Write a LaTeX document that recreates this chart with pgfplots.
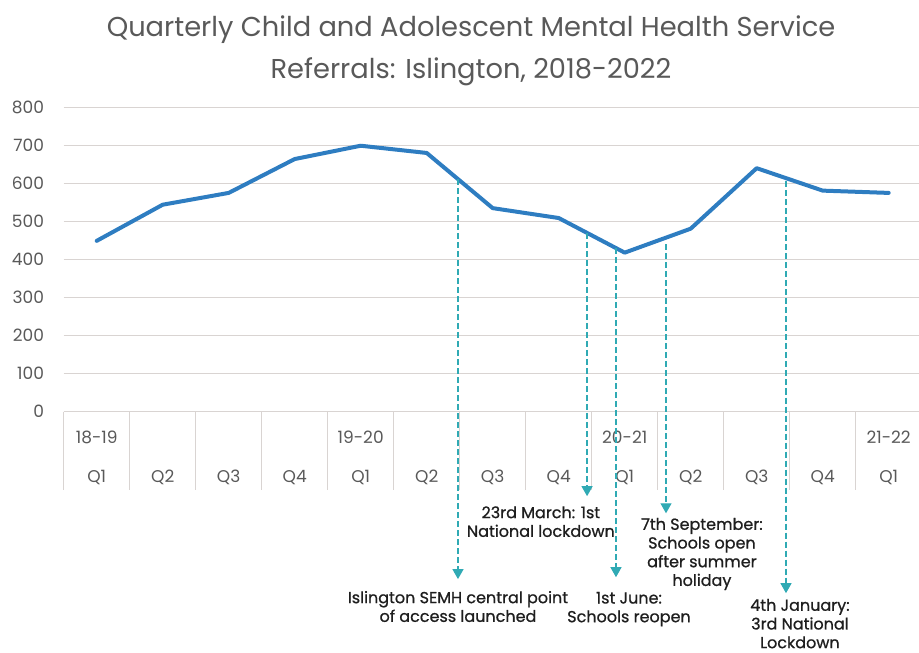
\documentclass[border=0pt]{standalone}
\usepackage{fontspec}
\setmainfont{Poppins}
\newfontfamily\annfont{Poppins}[FakeBold=0.8]
\usepackage{pgfplots}
\pgfplotsset{compat=1.18}
\usetikzlibrary{arrows.meta}
\definecolor{blueline}{RGB}{46,125,193}
\definecolor{teal2}{RGB}{48,170,180}
\definecolor{gridcol}{RGB}{217,212,210}
\definecolor{tickcol}{RGB}{89,89,89}
\definecolor{titlecol}{RGB}{89,89,89}
\definecolor{annotcol}{RGB}{30,30,30}
\begin{document}
\begin{tikzpicture}
\useasboundingbox (0pt,0pt) rectangle (919pt,653pt);
\node[align=center, text=titlecol, font=\fontsize{27.3}{42}\selectfont, inner sep=0pt] at (471pt,602pt) {Quarterly Child and Adolescent Mental Health Service\\Referrals: Islington, 2018-2022};
\begin{axis}[
  at={(63.7pt,241.3pt)}, anchor=south west,
  scale only axis, width=858pt, height=304.4pt,
  xmin=-0.5, xmax=12.5, ymin=0, ymax=800,
  clip=false,
  axis line style={draw=none},
  major tick length=0pt,
  ymajorgrids, grid style={gridcol, line width=1.2pt},
  /pgf/number format/assume math mode=true,
  ytick={0,100,...,800},
  yticklabel style={font=\fontsize{17}{17}\selectfont, text=tickcol, inner sep=0pt, anchor=east, xshift=-19.5pt},
  xtick={0,...,12},
  xticklabels={Q1,Q2,Q3,Q4,Q1,Q2,Q3,Q4,Q1,Q2,Q3,Q4,Q1},
  xticklabel style={font=\fontsize{17}{17}\selectfont, text=tickcol, inner sep=0pt, anchor=base, yshift=-70.6pt},
  extra x ticks={0,4,8,12},
  extra x tick labels={18-19,19-20,20-21,21-22},
  extra x tick style={xticklabel style={yshift=39pt}},
]
\pgfplotsinvokeforeach{-0.5,0.5,...,12.5}{
  \draw[gridcol, line width=1.2pt] (axis cs:#1,0) -- (axis cs:#1,-206);
}
\addplot[blueline, line width=4pt, line join=round, line cap=round] coordinates {
(0,449) (1,544) (2,575) (3,664) (4,699) (5,680) (6,535) (7,509) (8,418) (9,481) (10,640) (11,581) (12,575)};
\tikzset{ann/.style={teal2, line width=1.2pt, dash pattern=on 6pt off 3pt, -{Triangle[width=11pt,length=10pt]}},
  lab/.style={align=center, text=annotcol, font=\annfont\fontsize{16}{18.7}\selectfont, inner sep=0pt}}
\draw[ann] (axis cs:5.474,611) -- (axis cs:5.474,-440);
\draw[ann] (axis cs:7.43,470) -- (axis cs:7.43,-222);
\draw[ann] (axis cs:7.868,430) -- (axis cs:7.868,-435);
\draw[ann] (axis cs:8.626,440) -- (axis cs:8.626,-267);
\draw[ann] (axis cs:10.444,605) -- (axis cs:10.444,-477);
\node[lab] at (axis cs:5.474,-512) {Islington SEMH central point\\of access launched};
\node[lab] at (axis cs:6.73,-289) {23rd March: 1st\\National lockdown};
\node[lab] at (axis cs:8.065,-519) {1st June:\\Schools reopen};
\node[lab] at (axis cs:9.17,-374) {7th September:\\Schools open\\after summer\\holiday};
\node[lab] at (axis cs:10.655,-557) {4th January:\\3rd National\\Lockdown};
\end{axis}
\end{tikzpicture}
\end{document}
